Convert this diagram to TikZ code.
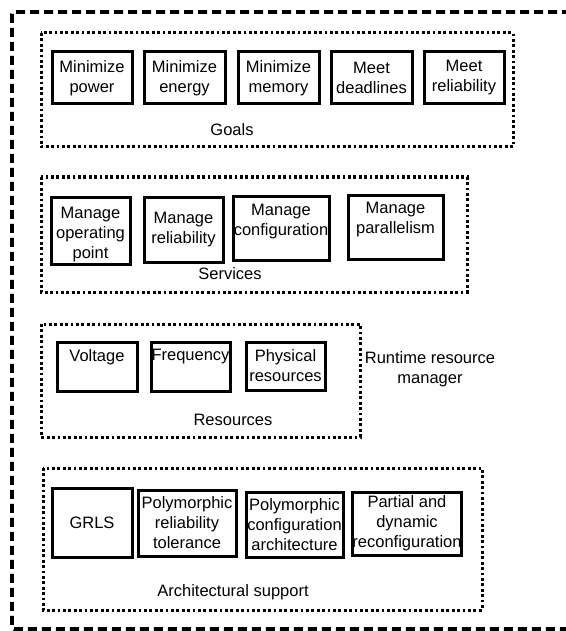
\documentclass[tikz,border=0pt]{standalone}
\usepackage{fontspec}
\setmainfont{Liberation Sans}
\begin{document}
\begin{tikzpicture}[x=1pt, y=-1pt,
  txt/.style={inner sep=0pt, align=center, font=\fontsize{16.5}{20}\selectfont},
  box/.style={draw, line width=3pt, inner sep=0pt, align=center,
    font=\fontsize{16.5}{20}\selectfont},
  group/.style={line width=3pt, dash pattern=on 2.8pt off 2.6pt},
  outer/.style={line width=3.8pt, dash pattern=on 9pt off 5pt, rounded corners=2pt}]
\useasboundingbox (0,0) rectangle (565,631);

% runtime resource manager (open on the right)
\draw[outer] (585,12) -- (12,12) -- (12,629) -- (585,629);
\node[txt] (rrm) at (430,369) {Runtime resource\\manager};

% goals
\draw[group] (41,33) rectangle (513,147);
\node[box, minimum width=80pt, minimum height=52pt] (g1) at (92,78) {Minimize\\power};
\node[box, minimum width=81pt, minimum height=52pt] (g2) at (184.5,78) {Minimize\\energy};
\node[box, minimum width=81pt, minimum height=52pt] (g3) at (278.5,78) {Minimize\\memory};
\node[box, minimum width=81pt, minimum height=52pt] (g4) at (371.5,78) {Meet\\deadlines};
\node[box, minimum width=80pt, minimum height=52pt] (g5) at (464,78) {Meet\\reliability};
\node[txt] (goals) at (232,130) {Goals};

% services
\draw[group] (41,177) rectangle (467,292);
\node[box, minimum width=79pt, minimum height=67pt] (s1) at (90.5,230.5) {};
\node[txt] (s1t) at (90.5,235) {Manage\\operating\\point};
\node[box, minimum width=79pt, minimum height=65pt] (s2) at (183.5,229.5) {Manage\\reliability};
\node[box, minimum width=96pt, minimum height=64pt] (s3) at (281,228) {};
\node[txt] (s3t) at (281,221.5) {Manage\\configuration};
\node[box, minimum width=95pt, minimum height=64pt] (s4) at (395.5,227) {};
\node[txt] (s4t) at (395.5,220) {Manage\\parallelism};
\node[txt] (services) at (230,274) {Services};

% resources
\draw[group] (41,324) rectangle (360,437);
\node[box, minimum width=80pt, minimum height=49pt] (r1) at (97,366.5) {};
\node[txt] (r1t) at (97,357) {Voltage};
\node[box, minimum width=79pt, minimum height=49pt] (r2) at (190.5,366.5) {};
\node[txt] (r2t) at (190.5,357) {Frequency};
\node[box, minimum width=79pt, minimum height=48pt] (r3) at (285.5,366) {Physical\\resources};
\node[txt] (resources) at (233,420) {Resources};

% architectural support
\draw[group] (43,468) rectangle (482,610);
\node[box, minimum width=80pt, minimum height=69pt] (a1) at (92,522.5) {GRLS};
\node[box, minimum width=98pt, minimum height=66pt] (a2) at (187,523) {Polymorphic\\reliability\\tolerance};
\node[box, minimum width=97pt, minimum height=65pt] (a3) at (294.5,524.5) {Polymorphic\\configuration\\architecture};
\node[box, minimum width=108pt, minimum height=63pt] (a4) at (407,523.5) {Partial and\\dynamic\\reconfiguration};
\node[txt] (arch) at (233,592) {Architectural support};
\end{tikzpicture}
\end{document}
